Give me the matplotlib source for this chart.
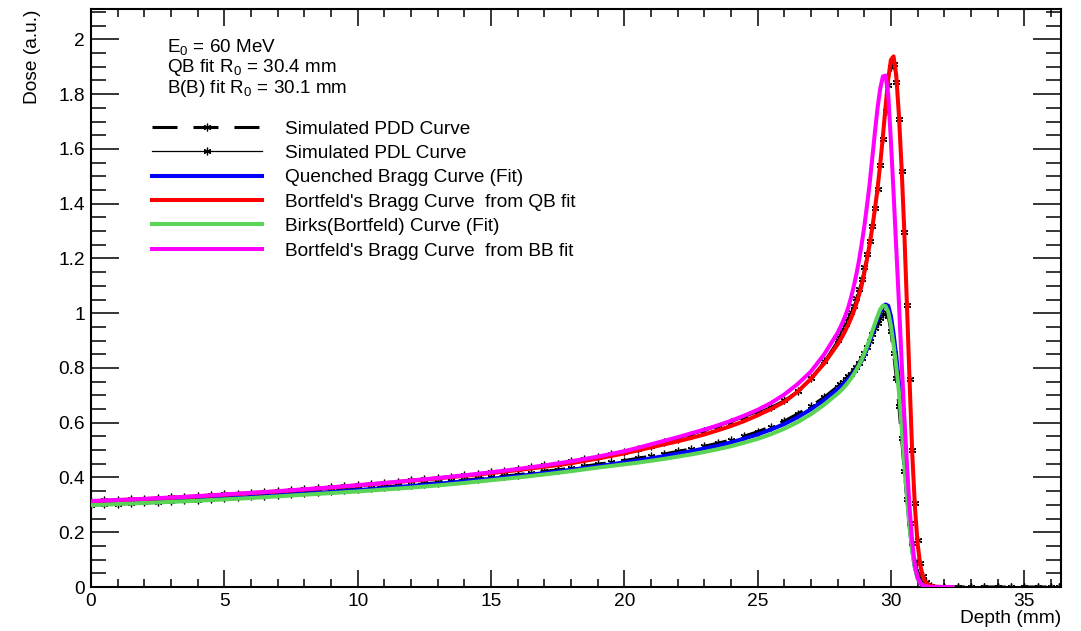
import matplotlib
matplotlib.use('Agg')
import matplotlib.pyplot as plt
from matplotlib.lines import Line2D
from matplotlib.ticker import MultipleLocator, FuncFormatter

plt.rcParams['font.family'] = ['Liberation Sans', 'DejaVu Sans']
plt.rcParams['mathtext.default'] = 'regular'
plt.rcParams['lines.scale_dashes'] = False

# depth grid of the simulated curves (mm)
depth_sim = [0.0, 0.5, 1.0, 1.5, 2.0, 2.5, 3.0, 3.5, 4.0, 4.5,
             5.0, 5.5, 6.0, 6.5, 7.0, 7.5, 8.0, 8.5, 9.0, 9.5,
             10.0, 10.5, 11.0, 11.5, 12.0, 12.5, 13.0, 13.5, 14.0, 14.5,
             15.0, 15.5, 16.0, 16.5, 17.0, 17.5, 18.0, 18.5, 19.0, 19.5,
             20.0, 20.5, 21.0, 21.5, 22.0, 22.5, 23.0, 23.5, 24.0, 24.5,
             25.0, 25.5, 26.0, 26.5, 27.0, 27.5, 28.0,
             28.1, 28.2, 28.3, 28.4, 28.5, 28.6, 28.7, 28.8, 28.9, 29.0,
             29.1, 29.2, 29.3, 29.4, 29.5, 29.6, 29.7, 29.8, 29.9, 30.0,
             30.1, 30.2, 30.3, 30.4, 30.5, 30.6, 30.7, 30.8, 30.9, 31.0,
             31.1, 31.2, 31.3, 31.4, 31.5,
             32.0, 32.5, 33.0, 33.5, 34.0, 34.5, 35.0, 35.5, 36.0, 36.3]

pdd_sim = [0.300, 0.302, 0.304, 0.306, 0.309, 0.311, 0.314, 0.316, 0.319, 0.322,
           0.325, 0.328, 0.331, 0.334, 0.337, 0.340, 0.344, 0.347, 0.350, 0.354,
           0.357, 0.361, 0.365, 0.369, 0.373, 0.377, 0.381, 0.386, 0.390, 0.395,
           0.400, 0.405, 0.410, 0.416, 0.422, 0.428, 0.434, 0.441, 0.448, 0.455,
           0.462, 0.470, 0.478, 0.486, 0.495, 0.504, 0.514, 0.525, 0.537, 0.551,
           0.567, 0.586, 0.606, 0.632, 0.660, 0.693, 0.732,
           0.741, 0.750, 0.759, 0.769, 0.779, 0.791, 0.804, 0.819, 0.836, 0.855,
           0.876, 0.899, 0.923, 0.946, 0.966, 0.983, 0.996, 1.004, 0.990, 0.935,
           0.855, 0.765, 0.660, 0.545, 0.425, 0.320, 0.235, 0.160, 0.095, 0.052,
           0.026, 0.012, 0.006, 0.003, 0.001,
           0.0, 0.0, 0.0, 0.0, 0.0, 0.0, 0.0, 0.0, 0.0, 0.0]

pdl_sim = [0.314, 0.316, 0.318, 0.320, 0.322, 0.325, 0.327, 0.330, 0.332, 0.335,
           0.338, 0.341, 0.344, 0.347, 0.350, 0.353, 0.357, 0.360, 0.364, 0.368,
           0.372, 0.376, 0.380, 0.384, 0.389, 0.393, 0.398, 0.403, 0.408, 0.414,
           0.419, 0.425, 0.431, 0.437, 0.444, 0.451, 0.459, 0.467, 0.475, 0.484,
           0.494, 0.505, 0.516, 0.528, 0.541, 0.555, 0.569, 0.585, 0.601, 0.619,
           0.638, 0.659, 0.684, 0.717, 0.765, 0.827, 0.902,
           0.922, 0.942, 0.962, 0.982, 1.003, 1.027, 1.055, 1.087, 1.125, 1.170,
           1.215, 1.265, 1.320, 1.385, 1.455, 1.540, 1.635, 1.740, 1.835, 1.900,
           1.910, 1.845, 1.710, 1.520, 1.295, 1.030, 0.760, 0.500, 0.305, 0.170,
           0.087, 0.040, 0.018, 0.008, 0.003,
           0.0, 0.0, 0.0, 0.0, 0.0, 0.0, 0.0, 0.0, 0.0, 0.0]

# depth grid of the fitted curves (mm)
depth_fit = [0, 1, 2, 3, 4, 5, 6, 7, 8, 9, 10, 11, 12, 13, 14, 15, 16, 17, 18, 19,
             20.0, 20.5, 21.0, 21.5, 22.0, 22.5, 23.0, 23.5, 24.0, 24.5,
             25.0, 25.5, 26.0, 26.5, 27.0, 27.5, 28.0,
             28.1, 28.2, 28.3, 28.4, 28.5, 28.6, 28.7, 28.8, 28.9, 29.0,
             29.1, 29.2, 29.3, 29.4, 29.5, 29.6, 29.7, 29.8, 29.9, 30.0,
             30.1, 30.2, 30.3, 30.4, 30.5, 30.6, 30.7, 30.8, 30.9, 31.0,
             31.1, 31.2, 31.3, 31.4, 31.5, 31.7, 32.0, 32.3]

qb_fit = [0.301, 0.305, 0.309, 0.313, 0.318, 0.323, 0.329, 0.335, 0.341, 0.347,
          0.354, 0.361, 0.369, 0.377, 0.386, 0.395, 0.405, 0.416, 0.428, 0.441,
          0.455, 0.462, 0.470, 0.478, 0.487, 0.496, 0.506, 0.516, 0.528, 0.542,
          0.557, 0.575, 0.595, 0.620, 0.649, 0.683, 0.722,
          0.731, 0.740, 0.749, 0.759, 0.770, 0.782, 0.795, 0.810, 0.827, 0.846,
          0.869, 0.895, 0.923, 0.952, 0.980, 1.003, 1.020, 1.032, 1.027, 0.990,
          0.925, 0.845, 0.750, 0.610, 0.470, 0.345, 0.225, 0.135, 0.072, 0.034,
          0.015, 0.006, 0.002, 0.001, 0.0, 0.0, 0.0, 0.0]

qb_bortfeld = [0.313, 0.317, 0.321, 0.326, 0.331, 0.337, 0.343, 0.349, 0.356, 0.363,
               0.371, 0.379, 0.388, 0.397, 0.406, 0.416, 0.427, 0.439, 0.452, 0.469,
               0.488, 0.499, 0.510, 0.521, 0.532, 0.544, 0.557, 0.572, 0.588, 0.606,
               0.627, 0.650, 0.676, 0.713, 0.760, 0.817, 0.886,
               0.902, 0.919, 0.938, 0.958, 0.980, 1.005, 1.033, 1.065, 1.100, 1.145,
               1.195, 1.250, 1.310, 1.380, 1.455, 1.545, 1.645, 1.755, 1.855, 1.925,
               1.938, 1.870, 1.725, 1.535, 1.305, 1.035, 0.755, 0.490, 0.295, 0.160,
               0.080, 0.038, 0.018, 0.008, 0.004, 0.001, 0.0, 0.0]

birks_fit = [0.299, 0.303, 0.307, 0.311, 0.315, 0.320, 0.325, 0.331, 0.337, 0.343,
             0.349, 0.356, 0.363, 0.371, 0.380, 0.390, 0.400, 0.411, 0.423, 0.436,
             0.448, 0.454, 0.461, 0.468, 0.476, 0.484, 0.493, 0.503, 0.514, 0.527,
             0.541, 0.558, 0.578, 0.602, 0.631, 0.666, 0.706,
             0.715, 0.725, 0.736, 0.748, 0.761, 0.776, 0.792, 0.810, 0.830, 0.852,
             0.877, 0.904, 0.933, 0.962, 0.989, 1.014, 1.028, 1.026, 1.005, 0.955,
             0.885, 0.805, 0.715, 0.590, 0.455, 0.335, 0.220, 0.130, 0.070, 0.033,
             0.014, 0.006, 0.002, 0.001, 0.0, 0.0, 0.0, 0.0]

bb_bortfeld = [0.314, 0.318, 0.322, 0.327, 0.332, 0.338, 0.344, 0.350, 0.357, 0.364,
               0.372, 0.380, 0.389, 0.398, 0.408, 0.419, 0.431, 0.444, 0.459, 0.476,
               0.496, 0.508, 0.521, 0.534, 0.547, 0.561, 0.575, 0.590, 0.607, 0.626,
               0.647, 0.672, 0.703, 0.741, 0.787, 0.850, 0.928,
               0.948, 0.969, 0.993, 1.021, 1.055, 1.095, 1.140, 1.190, 1.250, 1.315,
               1.390, 1.470, 1.565, 1.660, 1.750, 1.820, 1.865, 1.868, 1.800, 1.630,
               1.440, 1.240, 1.040, 0.830, 0.630, 0.450, 0.290, 0.165, 0.080, 0.035,
               0.014, 0.006, 0.003, 0.001, 0.0, 0.0, 0.0, 0.0]

labels = ['Simulated PDD Curve', 'Simulated PDL Curve', 'Quenched Bragg Curve (Fit)',
          "Bortfeld's Bragg Curve  from QB fit", 'Birks(Bortfeld) Curve (Fit)',
          "Bortfeld's Bragg Curve  from BB fit"]
info_lines = ['E$_0$ = 60 MeV', 'QB fit R$_0$ = 30.4 mm', 'B(B) fit R$_0$ = 30.1 mm']

W, H = 1081, 631
fig = plt.figure(figsize=(W / 100, H / 100), dpi=100)
ax = fig.add_axes([91 / W, 44 / H, 970 / W, 577.7 / H])

star = (6, 2, 0)
ax.plot(depth_sim, pdd_sim, color='black', lw=2.2, dashes=(18, 11.5),
        marker=star, ms=5.5, mew=0.9, zorder=2)
ax.plot(depth_sim, pdl_sim, color='black', lw=0.9,
        marker=star, ms=5.5, mew=0.9, zorder=2)

fit_colors = ['#0000ff', '#ff0000', '#59d454', '#ff00ff']
for vals, col in zip([qb_fit, qb_bortfeld, birks_fit, bb_bortfeld], fit_colors):
    ax.plot(depth_fit, vals, color=col, lw=2.9, zorder=3)

ax.set_xlim(0, 36.38)
ax.set_ylim(0, 2.11)

ax.xaxis.set_major_locator(MultipleLocator(5))
ax.xaxis.set_minor_locator(MultipleLocator(1))
ax.yaxis.set_major_locator(MultipleLocator(0.2))
ax.yaxis.set_minor_locator(MultipleLocator(0.05))
ax.yaxis.set_major_formatter(FuncFormatter(lambda v, p: f'{v:g}'))

ax.tick_params(which='both', direction='in', top=True, right=True,
               width=1.1, labelsize=13.8, color='black')
ax.tick_params(axis='x', which='major', length=12.5, pad=4)
ax.tick_params(axis='x', which='minor', length=6)
ax.tick_params(axis='y', which='major', length=20.5, pad=4.5)
ax.tick_params(axis='y', which='minor', length=10.5)
for sp in ax.spines.values():
    sp.set_linewidth(1.5)

ax.set_xlabel('Depth (mm)', loc='right', fontsize=13.8, labelpad=0)
ax.set_ylabel('Dose (a.u.)', loc='top', fontsize=13.8, labelpad=12)

fig.text(166.7 / W, 1 - 93.3 / H, '\n'.join(info_lines), fontsize=13.6,
         va='baseline', ha='left', linespacing=1.0)

handles = [
    Line2D([], [], color='black', lw=2.2, dashes=(18, 11.5), marker=star, ms=5.5, mew=0.9),
    Line2D([], [], color='black', lw=0.9, marker=star, ms=5.5, mew=0.9),
]
for col in fit_colors:
    handles.append(Line2D([], [], color=col, lw=2.9))
fig.legend(handles, labels, loc='upper left', bbox_to_anchor=(151.7 / W, 1 - 120.4 / H),
           frameon=False, fontsize=13.7, handlelength=5.78, handletextpad=1.22,
           labelspacing=0.37, borderpad=0, borderaxespad=0, numpoints=1)

fig.savefig('out.png', dpi=100)
